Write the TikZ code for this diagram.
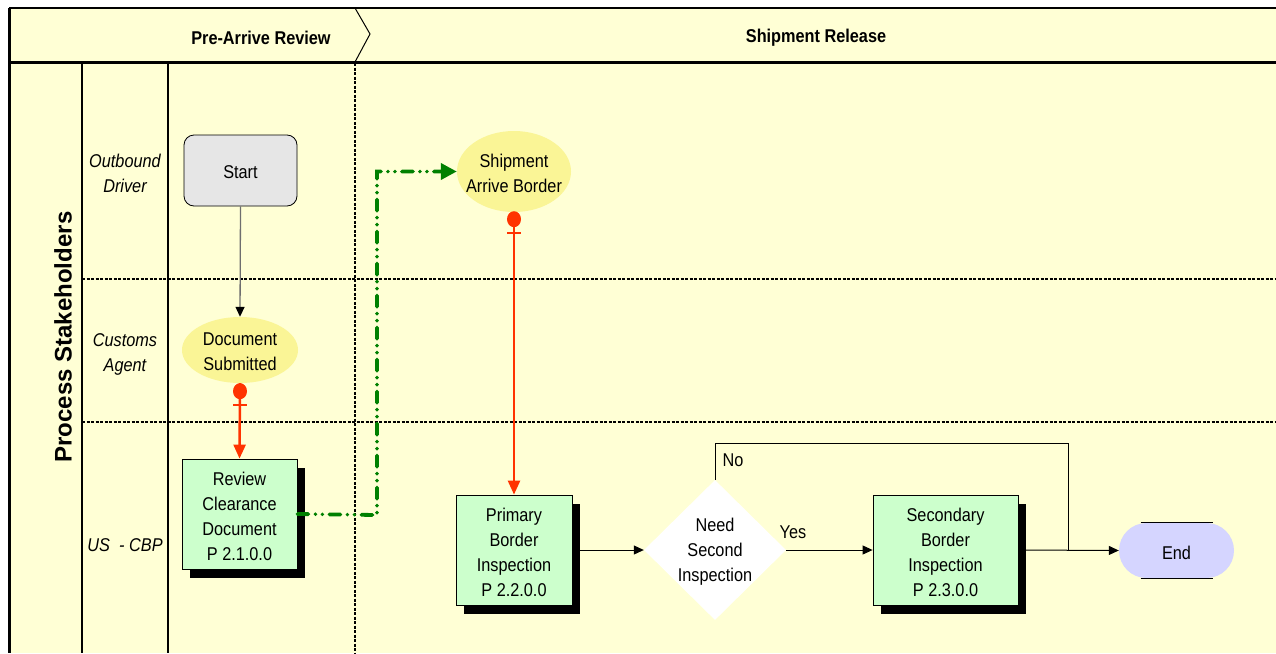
\documentclass[tikz,border=0pt]{standalone}
\usepackage{fontspec}
\setmainfont{Liberation Sans}[FakeStretch=0.88]
\newfontfamily\widefont{Liberation Sans}
\usetikzlibrary{arrows.meta,shapes.geometric,shapes.misc,shadows}

\definecolor{lanebg}{RGB}{255,255,213}
\definecolor{procfill}{RGB}{204,255,204}
\definecolor{evfill}{RGB}{250,245,150}
\definecolor{startfill}{RGB}{230,230,230}
\definecolor{endfill}{RGB}{213,213,255}
\definecolor{flowred}{RGB}{255,51,0}
\definecolor{flowgreen}{RGB}{0,128,0}
\definecolor{linkgray}{RGB}{110,110,110}

\newcommand{\lbl}{\fontsize{18.5}{25}\selectfont}

\tikzset{
  lanerule/.style={line width=2pt, black},
  laneseam/.style={line width=2pt, black, dash pattern=on 3pt off 1.5pt},
  lanename/.style={font=\lbl\itshape, align=center},
  phasename/.style={font=\lbl\bfseries},
  txt/.style={label={[font=\lbl, align=center, yshift=-2pt]center:#1}},
  procbox/.style={rectangle, draw=black, line width=0.8pt, fill=procfill,
    minimum width=116pt, minimum height=110pt, inner sep=0pt,
    drop shadow={shadow xshift=8pt, shadow yshift=-9pt, fill=black, opacity=1}},
  evnode/.style={ellipse, fill=evfill, inner sep=0pt},
  reddot/.style={ellipse, fill=flowred, minimum width=14pt, minimum height=16pt, inner sep=0pt},
  redflow/.style={flowred, line width=2.5pt, -{Triangle[length=14pt,width=12pt]}},
  greenflow/.style={flowgreen, line width=3.8pt, line cap=round,
    dash pattern=on 11pt off 7pt on 0pt off 7pt on 0pt off 7pt,
    -{Triangle[length=16pt,width=16pt,line cap=butt]}},
  blackflow/.style={black, line width=1pt, -{Triangle[length=10pt,width=9pt]}},
  branch/.style={font=\lbl}
}

\begin{document}
\begin{tikzpicture}[x=1pt,y=-1pt]
  \fill[white] (0,0) rectangle (1276,653);
  \useasboundingbox (0,0) rectangle (1276,653);

  % pool background and header band
  \fill[lanebg] (9,8) rectangle (1276,653);
  \draw[line width=2.5pt] (9,8) -- (1276,8);
  \draw[line width=3pt] (9,62) -- (1276,62);
  \draw[line width=3pt] (9,8) -- (9,653);
  \draw[line width=1pt] (355,8) -- (370,34) -- (355,62);
  \node[phasename] (ph1) at (261,38) {Pre-Arrive Review};
  \node[phasename] (ph2) at (816,38) {Shipment Release};

  % lane columns and separators
  \draw[lanerule] (82,62) -- (82,653);
  \draw[lanerule] (168,62) -- (168,653);
  \draw[laneseam] (82,279) -- (1276,279);
  \draw[laneseam] (82,422) -- (1276,422);
  \draw[laneseam] (355,63) -- (355,653);

  \node[font=\fontsize{24}{25}\selectfont\widefont\bfseries, rotate=90] (pool) at (63,337) {Process Stakeholders};
  \node[lanename] (l1) at (125,173) {Outbound\\Driver};
  \node[lanename] (l2) at (125,354) {Customs\\Agent};
  \node[lanename] (l3) at (125,545) {US\enspace- CBP};

  % flow objects
  \node[rectangle, rounded corners=10pt, draw=black, line width=0.8pt, fill=startfill,
        minimum width=113pt, minimum height=71pt, txt={Start}] (start) at (240.5,170.5) {};
  \node[evnode, minimum width=116pt, minimum height=66pt, txt={Document\\Submitted}] (doc) at (240,350) {};
  \node[procbox, minimum width=115pt, txt={Review\\Clearance\\Document\\P 2.1.0.0}] (rev) at (239.5,514) {};
  \node[evnode, minimum width=114pt, minimum height=81pt, txt={Shipment\\Arrive Border}] (ship) at (514,171.5) {};
  \node[procbox, txt={Primary\\Border\\Inspection\\P 2.2.0.0}] (prim) at (514,550) {};
  \node[diamond, fill=white, minimum width=142pt, minimum height=140pt, inner sep=0pt,
        txt={Need\\Second\\Inspection}] (dec) at (715,550) {};
  \node[procbox, minimum width=145pt, txt={Secondary\\Border\\Inspection\\P 2.3.0.0}] (sec) at (945.5,550) {};
  \node[rounded rectangle, fill=endfill, minimum width=115pt, minimum height=55pt,
        inner sep=0pt, txt={End}] (endn) at (1176.5,550.5) {};
  \draw[line width=1pt] ([xshift=-36pt]endn.north) -- ([xshift=36pt]endn.north);
  \draw[line width=1pt] ([xshift=-36pt]endn.south) -- ([xshift=36pt]endn.south);

  % connectors
  \draw[linkgray, line width=1.3pt, -{Triangle[length=10pt,width=9pt,color=black]}] (start.south) -- (doc.north);

  \draw[redflow] (doc.south) -- (rev.north);
  \node[reddot] (dotA) at ([yshift=-8pt]doc.south) {};
  \draw[flowred, line width=2.5pt] ([xshift=-7pt,yshift=-22pt]doc.south) -- ([xshift=7pt,yshift=-22pt]doc.south);

  \draw[redflow] (ship.south) -- (prim.north);
  \node[reddot] (dotB) at ([yshift=-7pt]ship.south) {};
  \draw[flowred, line width=2.5pt] ([xshift=-7pt,yshift=-21pt]ship.south) -- ([xshift=7pt,yshift=-21pt]ship.south);

  \coordinate (gbend) at (377,515);
  \draw[greenflow] (rev.east) -- (gbend) |- (ship.west);

  \draw[blackflow] (prim.east) -- (dec.west);
  \draw[blackflow] (dec.east) -- (sec.west);
  \node[branch] (yes) at (793,532) {Yes};

  \coordinate (loopTop) at (1068,443);
  \coordinate (join) at (1068,550);
  \draw[black, line width=0.8pt] (dec.north) |- (loopTop) -- (join);
  \node[branch] (no) at (733,460) {No};
  \draw[blackflow] (sec.east) -- (endn.west);
\end{tikzpicture}
\end{document}
